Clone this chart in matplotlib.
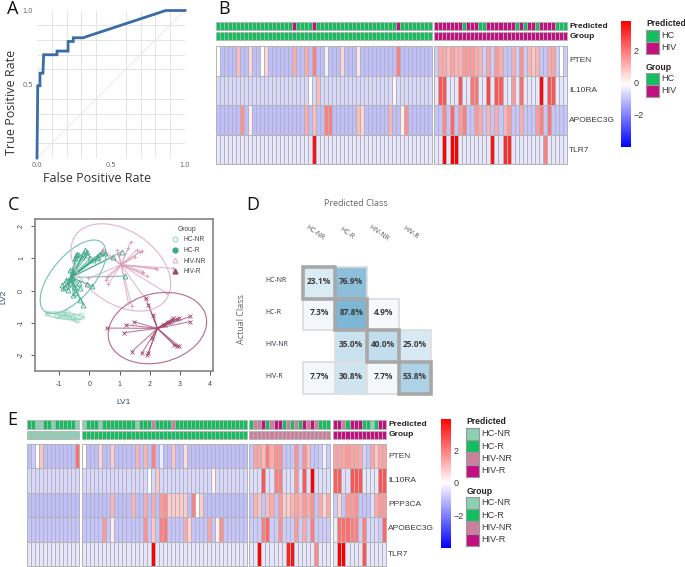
import numpy as np
import matplotlib
matplotlib.use('Agg')
import matplotlib.pyplot as plt
from matplotlib.colors import LinearSegmentedColormap, TwoSlopeNorm
from matplotlib.patches import Ellipse, Rectangle
from matplotlib.lines import Line2D

W, H = 685, 567

# A - ROC curve
fpr = [0, 0.005, 0.02, 0.02, 0.04, 0.045, 0.135, 0.135, 0.21, 0.21, 0.245, 0.245, 0.31, 0.87, 1.0]
tpr = [0, 0.49, 0.49, 0.575, 0.575, 0.70, 0.70, 0.725, 0.725, 0.79, 0.79, 0.815, 0.815, 1.0, 1.0]


def cells(n, base, changes):
    # mostly flat heatmap rows: baseline plus the cells that stand out
    row = [base] * n
    for k, v in changes.items():
        row[k] = v
    return row


genes_b = ['PTEN', 'IL10RA', 'APOBEC3G', 'TLR7']
genes_e = ['PTEN', 'IL10RA', 'PPP3CA', 'APOBEC3G', 'TLR7']

# B - heatmap, HC block (54) and HIV block (33)
b_hc = [
    cells(54, -1.0, {0: 0, 5: 0.8, 8: 0.5, 11: 0, 12: 0.5, 19: 1.0, 22: 1.0, 24: 1.5, 27: -0.2, 31: 0.5, 35: 0.3, 45: 1.5}),
    cells(54, -0.6, {23: 0, 25: 0.8, 44: 0.1}),
    cells(54, -1.0, {6: 1.3, 8: 0.2, 22: 1.0, 24: 0.8, 27: 1.5, 28: 1.5, 35: 0.8, 36: 0.5, 43: 0.9, 46: 0.2, 47: 1.3}),
    cells(54, -0.4, {24: 2.8}),
]
b_hiv = [
    [-0.8, 1.0, 1.0, 0.8, 1.1, 0.9, 0.9, 1.2, 1.2, 1.2, 1.0, 0.9, -0.8, 1.1, -0.8, 1.2, 1.0, -0.9, -0.9, 1.0, -0.8, 1.3, -0.8,
     0.9, 0.7, 0.9, -0.9, -0.9, 1.0, 1.1, -0.8, 0, -0.8],
    cells(33, -0.4, {1: 2.0, 2: 2.0, 6: 2.0, 9: 1.6, 10: 1.6, 13: 2.2, 15: 2.0, 16: 1.9, 19: 1.2, 21: 1.7, 26: 2.9, 28: 2.0, 29: 2.0}),
    cells(33, -0.9, {2: 1.4, 4: 1.8, 6: 1.2, 7: 1.5, 10: 1.2, 11: 1.0, 13: 0.9, 15: 1.0, 17: 0.9, 18: 1.2, 21: 1.0, 25: 1.2, 26: 1.5, 28: 1.6}),
    cells(33, -0.4, {2: 3.5, 4: 3.3, 5: 3.3, 14: 2.8, 17: 2.5, 18: 2.5, 27: 1.5}),
]
# class codes: 0 HC-NR, 1 HC-R, 2 HIV-NR, 3 HIV-R
b_pred_hc = cells(54, 1, {19: 3, 24: 3, 45: 3})
b_pred_hiv = cells(33, 3, {7: 1, 11: 1, 12: 1, 20: 1, 22: 1, 25: 1, 30: 1, 31: 1, 32: 1})

# C - latent variable plot
hc_nr_x = [-1.41, -1.08, -0.99, -0.92, -0.81, -0.70, -0.58, -0.47, -0.40, -0.75, -0.86, -0.28, -0.55]
hc_nr_y = [-0.68, -0.78, -0.75, -0.80, -0.78, -0.82, -0.86, -0.89, -0.91, -0.65, -0.70, -0.75, -0.80]
hc_r_x = [-0.42, -0.36, -0.47, -0.14, -0.09, -0.20, 0.13, 0.35, 0.41, 0.30, 0.02, -0.64, -0.92, -0.86, -0.70, -0.70, -0.53,
          -0.47, -0.31, -0.09, 0.08, -0.58, -0.36, -0.31, -0.20, -0.47, -0.77, -0.64, -0.81, -0.44, -0.25, -0.07, 0.24, 0.52,
          1.18, 1.07, 0.79]
hc_r_y = [1.15, 1.10, 1.00, 1.26, 1.21, 1.15, 0.95, 1.15, 1.21, 1.05, 1.00, 0.64, 0.18, 0.07, 0.18, 0.02, -0.13, -0.08, 0.07,
          0.21, 0.15, 0.38, 0.23, -0.29, -0.44, 0.12, 0.33, 0.23, 0.12, 1.10, 1.05, 1.10, 1.00, 1.18, 0.45, 1.21, 1.05]
hiv_nr_x = [0.46, 0.41, 0.91, 0.96, 0.99, 1.37, 1.29, 1.57, 1.68, 1.73, 1.90, 1.73, 2.17, 2.23, 2.78, 2.56, 1.40, 0.57, 0.63,
            0.55, -0.03, 1.29, 1.84, 1.51, 1.79]
hiv_nr_y = [1.28, 1.21, 1.26, 1.15, 1.10, 1.52, 1.31, 1.26, 1.21, 1.24, 0.45, 0.56, 0.69, 0.66, 0.69, -0.08, -0.47, 0.43, 0.21,
            0.33, 0.38, -0.39, -0.24, 1.05, 0.59]
hiv_r_x = [1.87, 1.95, 3.33, 3.33, 2.95, 2.78, 2.67, 2.51, 1.46, 1.21, 1.15, 0.57, 1.40, 1.73, 1.92, 1.95, 2.80, 2.89, 2.97,
           2.12, 2.59, 2.73, 2.89, 2.43, 2.06]
hiv_r_y = [-0.24, -0.44, -0.80, -0.96, -0.86, -0.86, -0.96, -1.06, -0.96, -1.06, -1.30, -1.16, -1.89, -1.94, -1.99, -1.94,
           -1.68, -1.73, -1.73, -0.75, -0.96, -0.90, -0.88, -1.06, -1.47]
centers = {'HC-NR': (-0.8, -0.78), 'HC-R': (-0.61, 0.41), 'HIV-NR': (1.05, 0.8), 'HIV-R': (2.25, -1.17)}

# D - confusion matrix, percent of actual class
classes = ['HC-NR', 'HC-R', 'HIV-NR', 'HIV-R']
conf = [[23.1, 76.9, None, None],
        [7.3, 87.8, 4.9, None],
        [None, 35.0, 40.0, 25.0],
        [7.7, 30.8, 7.7, 53.8]]

# E - heatmap, 13 + 41 + 20 + 13 samples
e_hc_nr = [
    cells(13, -1.0, {1: -0.8, 2: 0, 3: 0.7, 12: 1.7}),
    cells(13, -0.6, {}),
    cells(13, -1.0, {}),
    cells(13, -0.9, {}),
    cells(13, -0.4, {}),
]
e_hc_r = [
    cells(41, -1.0, {0: 0, 4: 0.5, 7: 0.6, 13: 0.9, 15: 0.9, 17: 1.5, 19: -0.3, 22: 0.7, 25: 0.4}),
    cells(41, -0.6, {16: 0, 18: 0.7, 32: 0.15}),
    cells(41, -1.0, {7: 0.9, 12: 0.9, 15: 1.0, 17: 1.0, 19: 1.2, 20: 1.3, 21: 0.6, 22: 0.6, 23: 0.6, 24: 0.6, 25: 0.6, 27: 1.5, 28: 0, 29: 0.6}),
    cells(41, -0.9, {5: 1.2, 7: 0.2, 15: 1.3, 17: 0.7, 19: 1.5, 20: 1.6, 25: 1.0, 26: 0.5, 31: 1.1, 33: 0.2, 34: 1.3}),
    cells(41, -0.4, {17: 3.0}),
]
e_hiv_nr = [
    [-0.9, 1.1, 1.1, 0.8, 1.5, 1.0, 1.3, 1.3, -0.9, -0.9, -0.9, 1.3, -0.9, 1.3, 0.8, -0.9, -0.9, -0.8, -0.2, -0.8],
    cells(20, -0.5, {3: 2.0, 6: 1.5, 7: 1.5, 11: 1.3, 13: 2.0, 15: 3.0}),
    [-0.9, 0.9, 0.7, -0.9, 0.8, 1.0, -0.9, 1.2, 0.6, 0.6, 0.9, 1.1, 0.9, 1.2, 1.0, 1.3, -0.9, 1.0, 0.5, 1.0],
    cells(20, -0.8, {3: 1.5, 4: 1.8, 7: 1.3, 11: 1.2, 13: 1.0, 15: 1.5}),
    cells(20, -0.4, {2: 3.5, 9: 2.6, 10: 2.8, 16: 1.4}),
]
e_hiv_r = [
    [1.1, 1.1, 1.1, 1.2, 1.1, 1.1, 1.0, -0.7, -0.9, 1.1, 0.7, 1.1, 1.1],
    [1.9, 1.9, -0.5, -0.5, 2.0, 2.0, 2.0, -0.4, -0.4, -0.4, -0.4, 2.0, 2.0],
    [-0.8, 0.5, -0.9, 1.2, 1.2, 1.3, -0.9, -0.9, -0.9, -0.5, 1.0, 1.2, 1.2],
    [-0.3, 1.7, 1.7, 1.7, 1.5, 1.5, -0.8, 1.5, -0.6, -0.6, -0.6, -0.8, 1.8],
    cells(13, -0.4, {1: 3.7, 2: 3.3, 7: 2.0}),
]
e_pred_hc_nr = [1, 1, 0, 0, 1, 1, 0, 1, 1, 1, 1, 1, 0]
e_pred_hc_r = cells(41, 1, {0: 0, 4: 0, 13: 0, 17: 2, 22: 2})
e_pred_hiv_nr = [1, 2, 2, 3, 1, 2, 3, 3, 1, 2, 1, 2, 1, 3, 2, 3, 2, 1, 1, 1]
e_pred_hiv_r = [3, 3, 2, 1, 3, 3, 3, 1, 1, 0, 1, 3, 3]

class_colors = ['#8CCFB5', '#12BF5F', '#CC7F9C', '#C40F83']
grid_c = '#B4B4B4'
label_c = '#3C3C3C'
sans = 'Liberation Sans'
heat = LinearSegmentedColormap.from_list('bwr2', ['#0000FF', '#FFFFFF', '#FF0000'])
heat_norm = TwoSlopeNorm(vcenter=0, vmin=-3.95, vmax=3.0)

fig = plt.figure(figsize=(W / 100, H / 100), dpi=100)
fig.patch.set_facecolor('white')


def px_ax(x0, y0, x1, y1):
    ax = fig.add_axes([x0 / W, 1 - y1 / H, (x1 - x0) / W, (y1 - y0) / H])
    return ax


def txt(x, y, s, **kw):
    kw.setdefault('family', sans)
    kw.setdefault('va', 'center')
    return fig.text(x / W, 1 - y / H, s, **kw)


def draw_cells(x0, x1, y0, y1, rows, color_of, lw):
    ax = px_ax(x0, y0, x1, y1)
    ax.set_xlim(0, len(rows[0]))
    ax.set_ylim(len(rows), 0)
    ax.axis('off')
    for r, row in enumerate(rows):
        for c, v in enumerate(row):
            ax.add_patch(Rectangle((c, r), 1, 1, facecolor=color_of(v), edgecolor=grid_c, linewidth=lw, clip_on=False))
    return ax


def heat_block(x0, x1, y0, y1, rows):
    return draw_cells(x0, x1, y0, y1, rows, lambda v: heat(heat_norm(v)), 0.7)


def ann_block(x0, x1, y0, y1, codes):
    return draw_cells(x0, x1, y0, y1, [codes], lambda v: class_colors[v], 0.6)


def color_bar(x0, x1, y0, y1, tick_x, ticks_y):
    ax = px_ax(x0, y0, x1, y1)
    ax.imshow(np.linspace(1, -1, 256).reshape(-1, 1), cmap=heat, aspect='auto', vmin=-1, vmax=1)
    ax.axis('off')
    for s, y in zip(['2', '0', '\u22122'], ticks_y):
        txt(tick_x, y, s, fontsize=6.5, color=label_c)


def swatches(x, y, title, names, codes, step=12.2):
    txt(x, y, title, fontsize=6.2, fontweight='bold', color='#222222')
    y0 = y + 5.5
    for i, (name, code) in enumerate(zip(names, codes)):
        ax = px_ax(x, y0 + i * step, x + 12.5, y0 + (i + 1) * step)
        ax.set_xticks([])
        ax.set_yticks([])
        ax.set_facecolor(class_colors[code])
        for sp in ax.spines.values():
            sp.set_color('#999999')
            sp.set_linewidth(0.8)
        txt(x + 15, y0 + (i + 0.5) * step, name, fontsize=6.6, color=label_c)


# A
ax = px_ax(37, 10.5, 185, 158)
ax.set_xlim(0, 1)
ax.set_ylim(0, 1)
ax.set_xticks(np.arange(0, 1.01, 0.1), minor=True)
ax.set_yticks(np.arange(0, 1.01, 0.1), minor=True)
ax.grid(True, which='minor', color='#E4E4E4', linewidth=0.7)
ax.set_xticks([0, 0.5, 1])
ax.set_yticks([0.5, 1])
ax.set_xticklabels(['0.0', '0.5', '1.0'], fontsize=4.8, color='#666666')
ax.set_yticklabels(['0.5', '1.0'], fontsize=4.8, color='#666666')
ax.tick_params(which='both', length=0, pad=3)
for sp in ax.spines.values():
    sp.set_visible(False)
ax.plot([0, 1], [0, 1], color='#E8E8E8', linewidth=0.7)
ax.plot(fpr, tpr, color='#3A6DA3', linewidth=2, clip_on=False, solid_joinstyle='miter')
txt(97, 178, 'False Positive Rate', family='Open Sans', fontsize=9, color='#333333', ha='center')
txt(12, 102, 'True Positive Rate', family='Open Sans', fontsize=9, color='#333333', ha='center', rotation=90)

# B
ann_block(216, 431.7, 21.5, 30, b_pred_hc)
ann_block(434, 567, 21.5, 30, b_pred_hiv)
ann_block(216, 431.7, 31.5, 40, cells(54, 1, {}))
ann_block(434, 567, 31.5, 40, cells(33, 3, {}))
heat_block(216, 431.7, 46, 164, b_hc)
heat_block(434, 567, 46, 164, b_hiv)
txt(569.3, 26, 'Predicted', fontsize=6, fontweight='bold', color='#222222')
txt(569.3, 36, 'Group', fontsize=6, fontweight='bold', color='#222222')
for g, y in zip(genes_b, [61, 91, 120, 150]):
    txt(569.3, y, g, fontsize=6, color=label_c)
color_bar(621, 630.7, 21, 147, 634, [52, 84, 116])
swatches(646, 24, 'Predicted', ['HC', 'HIV'], [1, 3])
swatches(646, 67, 'Group', ['HC', 'HIV'], [1, 3])

# C
ax = px_ax(34.7, 218.7, 213.3, 371)
ax.set_xlim(-1.81, 4.1)
ax.set_ylim(-2.49, 2.23)
groups = [('HC-NR', hc_nr_x, hc_nr_y, '#9AD8C2', 'o', 0.8),
          ('HC-R', hc_r_x, hc_r_y, '#3FA98A', '^', 0.8),
          ('HIV-NR', hiv_nr_x, hiv_nr_y, '#DB9DB5', '+', 0.8),
          ('HIV-R', hiv_r_x, hiv_r_y, '#A44670', 'x', 0.8)]
for name, xs, ys, c, m, lw in groups:
    cx, cy = centers[name]
    for px, py in zip(xs, ys):
        ax.plot([cx, px], [cy, py], color=c, linewidth=lw, alpha=0.7, zorder=2)
    ax.plot(xs, ys, linestyle='none', marker=m, markersize=3.5, markerfacecolor='none', markeredgecolor=c, markeredgewidth=0.6, zorder=3)
ellipses = [((-0.8, -0.78), 1.25, 0.2, -6, '#9AD8C2'),
            ((-0.54, 0.43), 2.85, 1.35, 47, '#6FC3A6'),
            ((1.04, 0.72), 3.6, 2.3, -31, '#E5B4C6'),
            ((2.25, -1.16), 3.3, 2.15, 12, '#B56A8C')]
for c_xy, w, h, ang, c in ellipses:
    ax.add_patch(Ellipse(c_xy, w, h, angle=ang, fill=False, edgecolor=c, linewidth=0.8, zorder=2))
ax.set_xticks([-1, 0, 1, 2, 3, 4])
ax.set_yticks([-2, -1, 0, 1, 2])
ax.set_xticklabels(['-1', '0', '1', '2', '3', '4'], fontsize=5, family=sans, color='#444444')
ax.set_yticklabels(['-2', '-1', '0', '1', '2'], fontsize=5, family=sans, color='#444444', rotation=90, va='center')
ax.tick_params(length=3, width=0.7, color='#555555', pad=4)
for sp in ax.spines.values():
    sp.set_color('#8C8C8C')
    sp.set_linewidth(1.3)
handles = [Line2D([], [], linestyle='none', marker='o', markersize=3.5, markerfacecolor='none', markeredgecolor='#7CCDB0', markeredgewidth=0.6),
           Line2D([], [], linestyle='none', marker='o', markersize=3.5, color='#3FA98A'),
           Line2D([], [], linestyle='none', marker='^', markersize=3.5, markerfacecolor='none', markeredgecolor='#DB9DB5', markeredgewidth=0.6),
           Line2D([], [], linestyle='none', marker='^', markersize=3.5, color='#A44670')]
leg = ax.legend(handles, classes, title='Group', frameon=False, loc='upper right', bbox_to_anchor=(0.985, 0.985),
                prop={'family': sans, 'size': 4.8}, title_fontsize=4.8, labelspacing=0.55, handletextpad=0.3, borderpad=0.2, labelcolor='#444444')
leg.get_title().set_family(sans)
leg.get_title().set_color('#444444')
txt(124, 402, 'LV1', fontsize=6, color='#2C4A66', ha='center')
txt(4, 297, 'LV2', fontsize=6, color='#2C4A66', ha='center', rotation=90)

# D
ax = px_ax(303.3, 266.7, 431, 394)
ax.set_xlim(0, 4)
ax.set_ylim(4, 0)
ax.axis('off')
conf_cm = LinearSegmentedColormap.from_list('conf', ['#FCFDFE', '#7AB5D5'])
for diag in [False, True]:
    for r, row in enumerate(conf):
        for c, v in enumerate(row):
            if v is None or (r == c) != diag:
                continue
            ax.add_patch(Rectangle((c, r), 1, 1, facecolor=conf_cm(v / 90), edgecolor='#A8A8A8' if diag else '#DEDEDE',
                                   linewidth=2.6 if diag else 1.3, clip_on=False))
            ax.text(c + 0.5, r + 0.45, '%.1f%%' % v, ha='center', va='center', fontsize=6, fontweight='bold', color='#3A3A3A', family='Open Sans')
for i, name in enumerate(classes):
    txt(315 + 32 * i - (i == 3), 233, name, family='Open Sans', fontsize=5, color='#555555', ha='center', rotation=-35, rotation_mode='anchor')
    txt(265.7, 280 + 32 * i, name, family='Open Sans', fontsize=5, color='#333344')
txt(356, 204, 'Predicted Class', family='Open Sans', fontsize=6.5, color='#666666', ha='center')
txt(242, 319, 'Actual Class', family='Open Sans', fontsize=6.5, color='#666666', ha='center', rotation=90)

# E
blocks = [(26.7, 79.3, e_pred_hc_nr, 0, e_hc_nr), (82.3, 247, e_pred_hc_r, 1, e_hc_r),
          (249.3, 330, e_pred_hiv_nr, 2, e_hiv_nr), (333.3, 386, e_pred_hiv_r, 3, e_hiv_r)]
for x0, x1, pred, grp, rows in blocks:
    ann_block(x0, x1, 420, 428.5, pred)
    ann_block(x0, x1, 430.5, 439, [grp] * len(pred))
    heat_block(x0, x1, 444, 566, rows)
txt(388.3, 424.3, 'Predicted', fontsize=6, fontweight='bold', color='#222222')
txt(388.3, 434.3, 'Group', fontsize=6, fontweight='bold', color='#222222')
for g, y in zip(genes_e, [457, 481, 505, 529, 554]):
    txt(388.3, y, g, fontsize=6, color=label_c)
color_bar(441.3, 450.7, 418.7, 548.3, 454, [451, 483.7, 516.7])
swatches(466.5, 422, 'Predicted', classes, [0, 1, 2, 3], step=12.4)
swatches(466.5, 491, 'Group', classes, [0, 1, 2, 3], step=12.4)

# panel letters
for s, x, y in [('A', 7, 9), ('B', 218, 9), ('C', 8, 205), ('D', 246, 205), ('E', 7, 420)]:
    txt(x, y, s, fontsize=13, color='#111111', family='Open Sans')

fig.savefig('out.png', dpi=100)
